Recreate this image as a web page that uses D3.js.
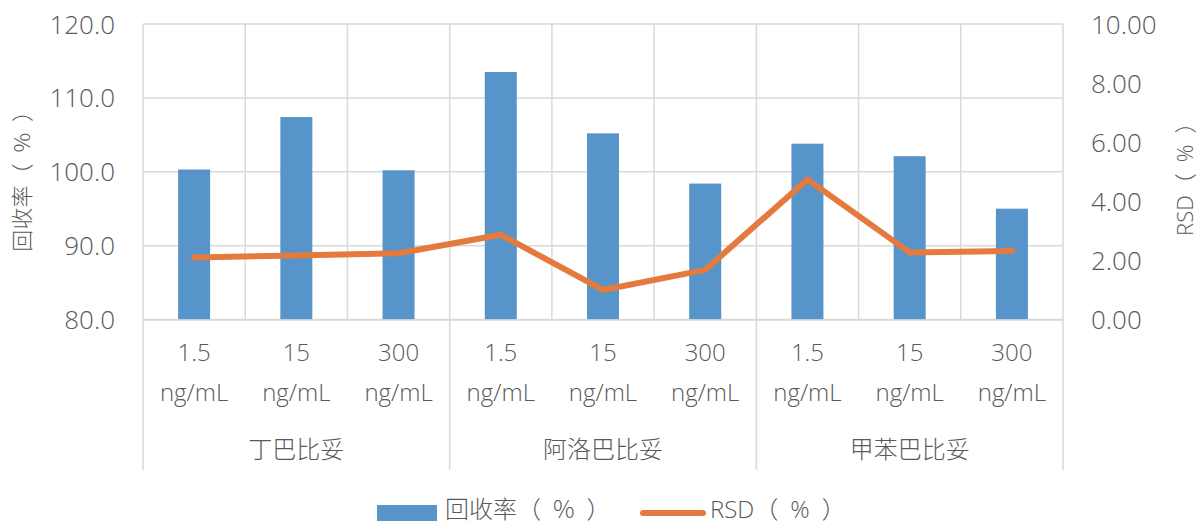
<!DOCTYPE html>
<html>
<head>
<meta charset="utf-8">
<script src="https://cdn.jsdelivr.net/npm/d3@7"></script>
<style>
  html, body { margin: 0; padding: 0; background: #fff; }
  svg { display: block; }
  text { font-family: "Open Sans", "Noto Sans CJK SC", sans-serif; fill: #595959; font-weight: 300; }
</style>
</head>
<body>
<svg id="chart" width="1199" height="526"></svg>
<script>
// Drugs (outer category level) and spiked concentrations (inner level)
const groups = ["丁巴比妥", "阿洛巴比妥", "甲苯巴比妥"];
const concentrations = ["1.5", "15", "300"];
const unit = "ng/mL";

// Recovery (%) per drug × concentration, left axis
const recovery = [100.3, 107.4, 100.2, 113.5, 105.2, 98.4, 103.8, 102.1, 95.0];
// RSD (%) per drug × concentration, right axis
const rsd = [2.10, 2.17, 2.24, 2.87, 1.00, 1.68, 4.74, 2.27, 2.32];

const leftTicks = [80, 90, 100, 110, 120];
const rightTicks = [0, 2, 4, 6, 8, 10];

// series / axis names (en spaces keep the fullwidth brackets open)
const leftTitle = "回收率（\u2002%\u2002）";
const rightTitle = "RSD（\u2002%\u2002）";

const barColor = "#5694CA";
const lineColor = "#E57A3F";
const gridColor = "#D9D9D9";

const svg = d3.select("#chart");
const m = { left: 143, right: 1063, top: 24, bottom: 319.5 };

// one slot per drug/concentration pair
const cats = [];
groups.forEach((g, gi) => concentrations.forEach((c, ci) => cats.push({ id: gi + "-" + ci, g, c, gi })));

const x = d3.scaleBand().domain(cats.map(d => d.id)).range([m.left, m.right]).padding(0);
const yL = d3.scaleLinear().domain([80, 120]).range([m.bottom, m.top]);
const yR = d3.scaleLinear().domain([0, 10]).range([m.bottom, m.top]);

const bw = x.bandwidth();
const barW = bw * 0.313;

// gridlines: horizontal from the left axis ticks, vertical at slot edges
const grid = svg.append("g").attr("stroke", gridColor).attr("stroke-width", 1.5).attr("fill", "none");
grid.selectAll("line.h").data(leftTicks).join("line")
  .attr("x1", m.left).attr("x2", m.right)
  .attr("y1", d => yL(d)).attr("y2", d => yL(d));
grid.selectAll("line.v").data(cats.map(d => x(d.id)).concat([m.right])).join("line")
  .attr("x1", d => d).attr("x2", d => d)
  .attr("y1", m.top).attr("y2", m.bottom);

// group separators below the axis
const groupEdges = groups.map((g, i) => x(i + "-0")).concat([m.right]);
grid.selectAll("line.sep").data(groupEdges).join("line")
  .attr("x1", d => d).attr("x2", d => d)
  .attr("y1", m.bottom).attr("y2", 470);

// bars
svg.append("g").selectAll("rect").data(cats).join("rect")
  .attr("x", (d, i) => x(d.id) + (bw - barW) / 2)
  .attr("width", barW)
  .attr("y", (d, i) => yL(recovery[i]))
  .attr("height", (d, i) => yL(80) - yL(recovery[i]))
  .attr("fill", barColor);

// RSD line
const line = d3.line().x((d, i) => x(cats[i].id) + bw / 2).y(d => yR(d));
svg.append("path").datum(rsd)
  .attr("d", line)
  .attr("fill", "none")
  .attr("stroke", lineColor)
  .attr("stroke-width", 6)
  .attr("stroke-linejoin", "round")
  .attr("stroke-linecap", "round");

// left axis
const axL = svg.append("g").attr("transform", `translate(${m.left},0)`)
  .call(d3.axisLeft(yL).tickValues(leftTicks).tickFormat(d3.format(".1f")).tickSize(0).tickPadding(28));
axL.select(".domain").remove();
axL.selectAll("text").attr("font-size", 26).attr("dy", "0.35em").style("font-family", "Open Sans").attr("fill", "#595959");

// right axis
const axR = svg.append("g").attr("transform", `translate(${m.right},0)`)
  .call(d3.axisRight(yR).tickValues(rightTicks).tickFormat(d3.format(".2f")).tickSize(0).tickPadding(28));
axR.select(".domain").remove();
axR.selectAll("text").attr("font-size", 26).attr("dy", "0.35em").style("font-family", "Open Sans").attr("fill", "#595959");

// category axis (two text lines per slot) and group labels
const axB = svg.append("g").attr("transform", `translate(0,${m.bottom})`)
  .call(d3.axisBottom(x).tickSize(0).tickFormat(""));
axB.select(".domain").attr("stroke", gridColor).attr("stroke-width", 1.5);

const catLab = svg.append("g").attr("font-size", 24).attr("text-anchor", "middle");
catLab.selectAll("text.c").data(cats).join("text")
  .attr("x", d => x(d.id) + bw / 2).attr("y", 361)
  .text(d => d.c);
catLab.selectAll("text.u").data(cats).join("text")
  .attr("x", d => x(d.id) + bw / 2).attr("y", 401)
  .text(unit);
catLab.selectAll("text.g").data(groups).join("text")
  .attr("x", (d, i) => (groupEdges[i] + groupEdges[i + 1]) / 2).attr("y", 458)
  .style("font-family", "Noto Sans CJK SC")
  .text(d => d);

// axis titles
svg.append("text").attr("font-size", 22).attr("text-anchor", "middle")
  .attr("transform", `translate(22,${(m.top + m.bottom) / 2 + 4}) rotate(-90)`)
  .attr("dy", "0.35em")
  .style("font-family", "Noto Sans CJK SC")
  .text(leftTitle);
svg.append("text").attr("font-size", 22).attr("text-anchor", "middle")
  .attr("transform", `translate(1185,${(m.top + m.bottom) / 2 + 2}) rotate(-90)`)
  .attr("dy", "0.35em")
  .style("font-family", "Open Sans, Noto Sans CJK SC")
  .text(rightTitle);

// legend
const lg = svg.append("g");
lg.append("rect").attr("x", 377).attr("y", 505).attr("width", 60).attr("height", 16).attr("fill", barColor);
lg.append("text").attr("x", 445).attr("y", 510).attr("dy", "0.35em").attr("font-size", 24)
  .style("font-family", "Noto Sans CJK SC").text(leftTitle);
lg.append("line").attr("x1", 643).attr("x2", 703).attr("y1", 513).attr("y2", 513)
  .attr("stroke", lineColor).attr("stroke-width", 6).attr("stroke-linecap", "round");
lg.append("text").attr("x", 710).attr("y", 510).attr("dy", "0.35em").attr("font-size", 24)
  .style("font-family", "Open Sans, Noto Sans CJK SC").text(rightTitle);
</script>
</body>
</html>
